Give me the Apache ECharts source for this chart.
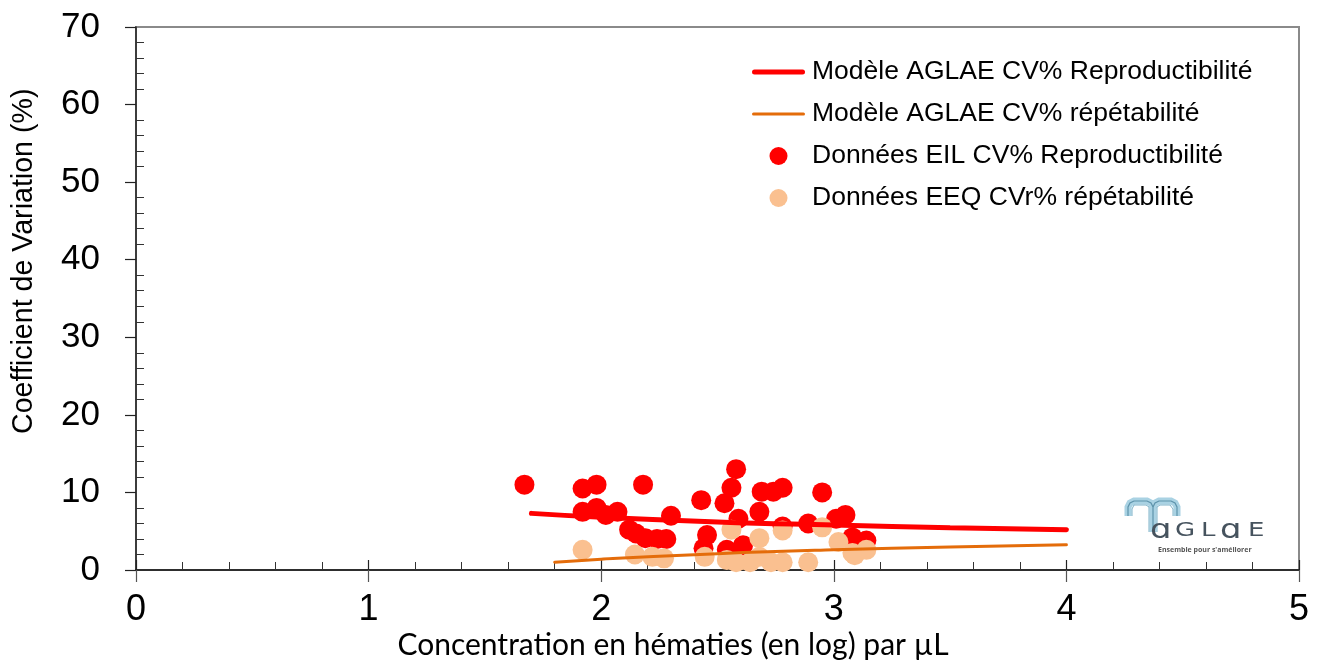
<!DOCTYPE html>
<html>
<head>
<meta charset="utf-8">
<script src="https://cdn.jsdelivr.net/npm/echarts@6/dist/echarts.min.js"></script>
<style>
  html, body { margin: 0; padding: 0; background: #fff; }
  #chart { width: 1320px; height: 662px; }
</style>
</head>
<body>
<div id="chart"></div>
<script>
// Axis ticks
const xTicks = [0, 1, 2, 3, 4, 5];
const yTicks = [0, 10, 20, 30, 40, 50, 60, 70];

// Model curves (log concentration, CV %)
const reproModelX = [1.70, 2.00, 2.50, 3.00, 3.50, 4.00];
const reproModelY = [7.3, 6.8, 6.2, 5.8, 5.45, 5.2];
const repetModelX = [1.80, 2.00, 2.50, 3.00, 3.50, 4.00];
const repetModelY = [1.0, 1.4, 2.1, 2.6, 2.95, 3.25];

// EIL reproducibility data
const eilX = [1.67, 1.92, 1.98, 2.18, 1.92, 1.98, 2.02, 2.07, 2.12, 2.15, 2.19, 2.24, 2.28, 2.30,
              2.43, 2.455, 2.44, 2.58, 2.56, 2.53, 2.59, 2.69, 2.74, 2.78, 2.68, 2.78, 2.89, 2.95,
              3.01, 3.05, 3.08, 3.14, 2.61, 2.54];
const eilY = [11.0, 10.5, 11.0, 11.0, 7.5, 8.0, 7.1, 7.5, 5.2, 4.7, 4.1, 4.0, 4.0, 7.0,
              9.0, 4.5, 2.8, 13.0, 10.6, 8.6, 6.6, 10.1, 10.1, 10.6, 7.5, 5.6, 6.0, 10.0,
              6.6, 7.1, 4.2, 3.8, 3.2, 2.6];

// EEQ repeatability data
const eeqX = [1.92, 2.145, 2.22, 2.27, 2.445, 2.54, 2.58, 2.56, 2.68, 2.68, 2.73, 2.78, 2.78,
              2.89, 2.95, 3.02, 3.08, 3.09, 3.14, 2.64];
const eeqY = [2.6, 2.0, 1.7, 1.5, 1.7, 1.3, 1.0, 5.2, 4.1, 1.7, 1.0, 1.0, 5.1,
              1.0, 5.5, 3.6, 2.2, 1.9, 2.6, 1.0];

const seriesNames = [
  'Modèle AGLAE CV% Reproductibilité',
  'Modèle AGLAE CV% répétabilité',
  'Données EIL CV% Reproductibilité',
  'Données EEQ CVr% répétabilité'
];

const zip = (xs, ys) => xs.map((x, i) => [x, ys[i]]);

const FONT = '"Liberation Sans", Arial, sans-serif';
const xMin = xTicks[0], xMax = xTicks[xTicks.length - 1];
const yMin = yTicks[0], yMax = yTicks[yTicks.length - 1];

const chart = echarts.init(document.getElementById('chart'), null, { renderer: 'canvas' });

const baseX = {
  type: 'value', min: xMin, max: xMax, interval: 1,
  splitLine: { show: false }
};
const baseY = {
  type: 'value', min: yMin, max: yMax, interval: 10,
  splitLine: { show: false }
};

// Legend icons for the two model lines: flat bars with rounded ends
const barIcon = (w, h) => {
  const r = h / 2;
  return 'path://M' + r + ',0 H' + (w - r) + ' A' + r + ',' + r + ' 0 0 1 ' + (w - r) + ',' + h +
         ' H' + r + ' A' + r + ',' + r + ' 0 0 1 ' + r + ',0 Z';
};

// Logo arches (local coordinates of the logo group)
const archLeft = [[4, 18], [4, 9], [6, 5], [10, 3], [23, 3], [27, 5], [29, 9], [29, 34]];
const archRight = [[29, 9], [31, 5], [35, 3], [47, 3], [51, 5], [53, 9], [53, 18]];
const archLeftIn = [[8, 18], [8, 11], [10, 7], [22, 7], [25, 9], [25, 34]];
const archRightIn = [[33, 34], [33, 9], [36, 7], [46, 7], [49, 11], [49, 18]];
const logoLetters = ['ɑ', 'G', 'L', 'ɑ', 'E'];
const logoLetterX = [26, 51, 77, 96, 124];
const logoLetterSize = [26, 20, 20, 26, 20];

chart.setOption({
  animation: false,
  backgroundColor: '#ffffff',
  grid: {
    left: 136, right: 21, top: 27, bottom: 92,
    show: true, borderColor: '#8a8a8a', borderWidth: 2, backgroundColor: 'transparent'
  },
  xAxis: [
    Object.assign({}, baseX, {
      position: 'bottom',
      axisLine: { show: true, lineStyle: { color: '#111', width: 1.5 } },
      axisTick: { show: true, inside: true, length: 10, lineStyle: { color: '#222', width: 1.2 } },
      minorTick: { show: true, splitNumber: 5, length: 8, lineStyle: { color: '#333', width: 1 } },
      axisLabel: { show: false }
    }),
    Object.assign({}, baseX, {
      position: 'bottom',
      axisLine: { show: false },
      axisTick: { show: true, inside: false, length: 12, lineStyle: { color: '#555', width: 1.2 } },
      axisLabel: { show: true, fontFamily: FONT, fontSize: 36, color: '#000', margin: 22 }
    })
  ],
  yAxis: [
    Object.assign({}, baseY, {
      position: 'left',
      axisLine: { show: true, lineStyle: { color: '#222', width: 1.5 } },
      axisTick: { show: false, inside: true },
      minorTick: { show: true, splitNumber: 5, length: 8, lineStyle: { color: '#333', width: 1 } },
      axisLabel: { show: false }
    }),
    Object.assign({}, baseY, {
      position: 'left',
      axisLine: { show: false },
      axisTick: { show: true, inside: false, length: 11, lineStyle: { color: '#222', width: 1.2 } },
      axisLabel: { show: true, fontFamily: FONT, fontSize: 35, color: '#000', margin: 36 }
    })
  ],
  legend: {
    show: true,
    orient: 'vertical',
    left: 752, top: 57, padding: 0,
    itemWidth: 53, itemHeight: 18, itemGap: 12,
    symbolKeepAspect: true,
    textStyle: { fontFamily: FONT, fontSize: 26.5, color: '#000', lineHeight: 30, padding: [0, 0, 0, 2] },
    data: [
      { name: seriesNames[0], icon: barIcon(53, 5) },
      { name: seriesNames[1], icon: barIcon(53, 3) },
      { name: seriesNames[2], icon: 'circle' },
      { name: seriesNames[3], icon: 'circle' }
    ]
  },
  series: [
    {
      name: seriesNames[0], type: 'line', xAxisIndex: 0, yAxisIndex: 0,
      data: zip(reproModelX, reproModelY),
      smooth: true, showSymbol: false, symbol: 'none',
      lineStyle: { color: '#ff0000', width: 5, cap: 'round' },
      itemStyle: { color: '#ff0000' }
    },
    {
      name: seriesNames[1], type: 'line', xAxisIndex: 0, yAxisIndex: 0,
      data: zip(repetModelX, repetModelY),
      smooth: true, showSymbol: false, symbol: 'none',
      lineStyle: { color: '#e46c0a', width: 3, cap: 'round' },
      itemStyle: { color: '#e46c0a' }
    },
    {
      name: seriesNames[2], type: 'scatter', xAxisIndex: 0, yAxisIndex: 0,
      data: zip(eilX, eilY),
      symbol: 'circle', symbolSize: 20,
      itemStyle: { color: '#ff0000', opacity: 1 }
    },
    {
      name: seriesNames[3], type: 'scatter', xAxisIndex: 0, yAxisIndex: 0,
      data: zip(eeqX, eeqY),
      symbol: 'circle', symbolSize: 20,
      itemStyle: { color: '#fac090', opacity: 1 }
    }
  ],
  graphic: [
    // Axis titles
    {
      type: 'text', x: 673, y: 630,
      style: {
        text: 'Concentration en hématies (en log) par µL',
        font: '30px Lato, "Open Sans", sans-serif', fill: '#000', align: 'center'
      }
    },
    {
      type: 'text', x: 10, y: 434, rotation: Math.PI / 2,
      style: {
        text: 'Coefficient de Variation (%)',
        font: '28.6px "Liberation Sans", Arial, sans-serif', fill: '#000'
      }
    },
    // AGLAE logo
    {
      type: 'group', x: 1124, y: 498,
      children: [
        { type: 'polyline', shape: { points: archLeft }, style: { stroke: '#a9d2e3', lineWidth: 7, fill: null } },
        { type: 'polyline', shape: { points: archRight }, style: { stroke: '#a9d2e3', lineWidth: 7, fill: null } },
        { type: 'polyline', shape: { points: archLeft }, style: { stroke: '#5e93ab', lineWidth: 1.2, fill: null } },
        { type: 'polyline', shape: { points: archRight }, style: { stroke: '#5e93ab', lineWidth: 1.2, fill: null } },
        { type: 'polyline', shape: { points: archLeftIn }, style: { stroke: '#7fb3c9', lineWidth: 1, fill: null } },
        { type: 'polyline', shape: { points: archRightIn }, style: { stroke: '#7fb3c9', lineWidth: 1, fill: null } }
      ].concat(logoLetters.map((ch, i) => ({
        type: 'text', x: logoLetterX[i], y: 33, scaleX: 1.3,
        style: {
          text: ch, font: logoLetterSize[i] + 'px "DejaVu Sans", sans-serif',
          fill: '#46535e', verticalAlign: 'middle'
        }
      }))).concat([
        {
          type: 'text', x: 34, y: 48,
          style: { text: "Ensemble pour s'améliorer", font: 'bold 7px "Open Sans", sans-serif', fill: '#555' }
        }
      ])
    }
  ]
});
</script>
</body>
</html>
